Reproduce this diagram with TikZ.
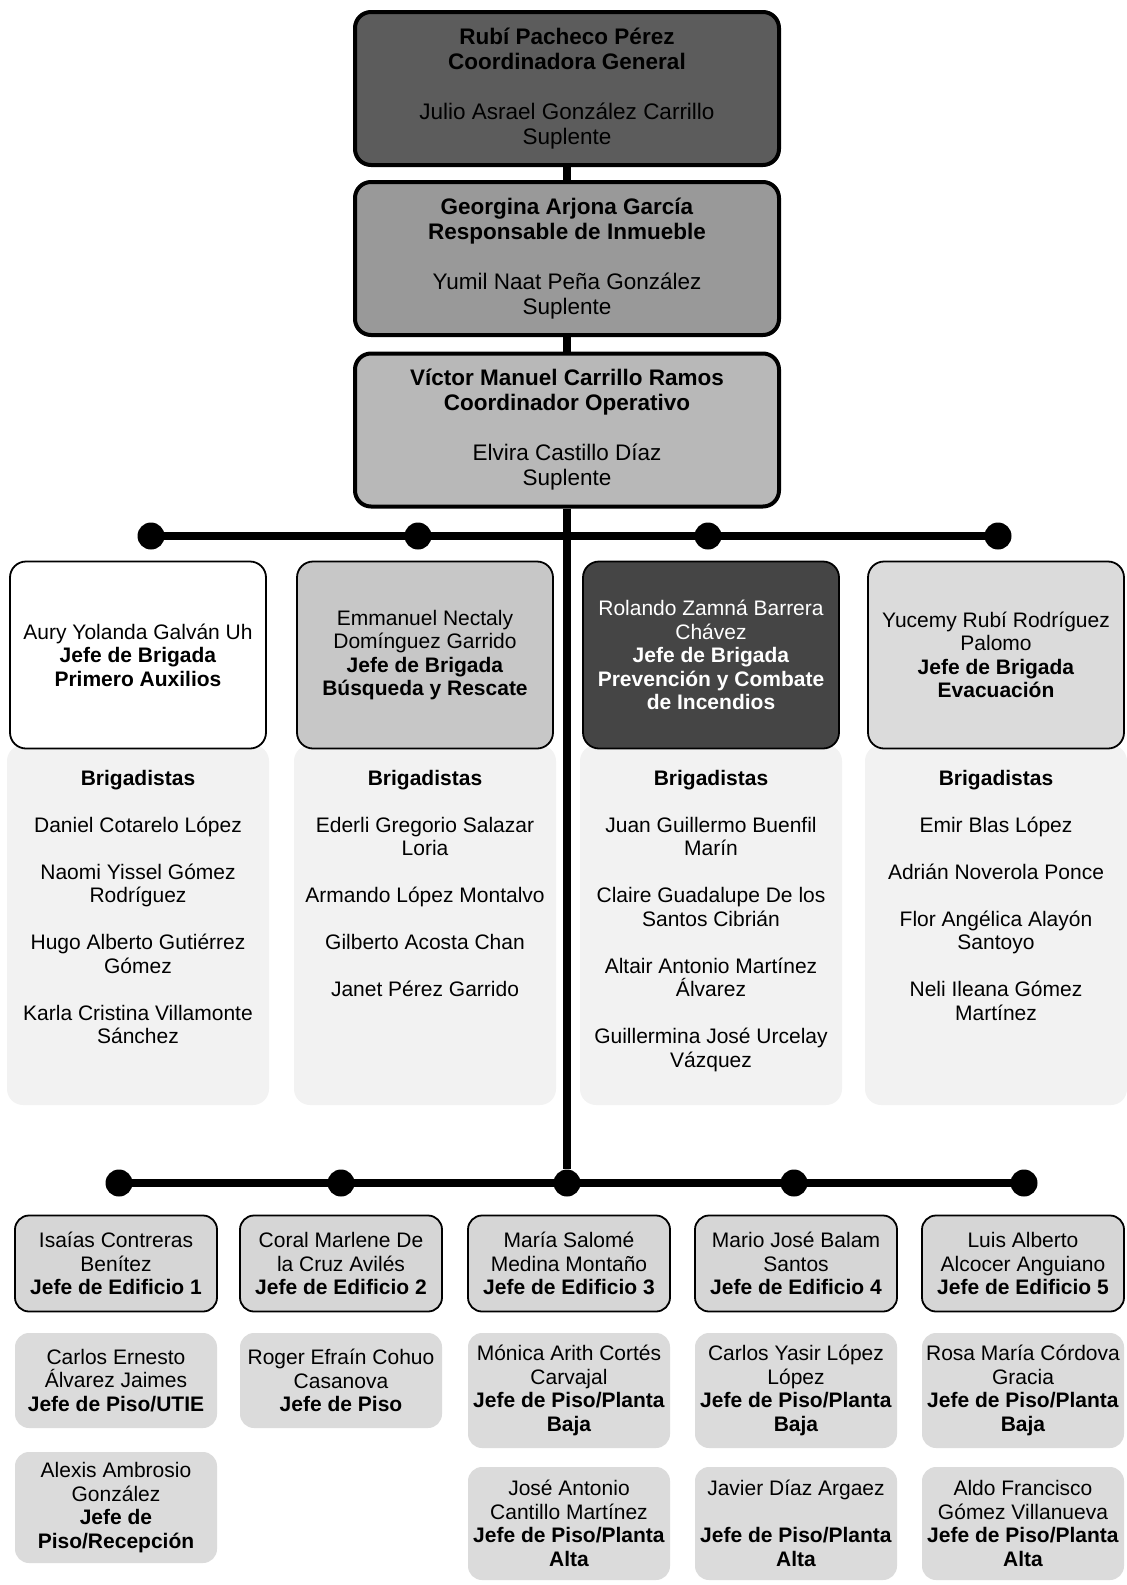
\documentclass[tikz,border=0pt]{standalone}
\usepackage{fontspec}
\setmainfont{Liberation Sans}
\usepackage{tikz}

% Define fill colours
\definecolor{genfill}{gray}{0.36}
\definecolor{inmfill}{gray}{0.60}
\definecolor{opefill}{gray}{0.72}
\definecolor{busfill}{gray}{0.78}
\definecolor{incfill}{gray}{0.27}
\definecolor{evafill}{gray}{0.86}
\definecolor{listfill}{gray}{0.95}
\definecolor{edifill}{gray}{0.84}
\definecolor{pisofill}{gray}{0.86}

\tikzset{
    topbox/.style={draw=black, line width=4pt, rounded corners=16pt, minimum width=424pt,
        minimum height=153pt, align=center, inner sep=0pt, font=\fontsize{22.5}{25}\selectfont},
    brigbox/.style={draw=black, line width=1.8pt, rounded corners=16pt, minimum width=256pt,
        minimum height=187pt, align=center, inner sep=0pt, font=\fontsize{21}{23.5}\selectfont},
    listbg/.style={fill=listfill, rounded corners=16pt, minimum width=262pt, minimum height=360pt, inner sep=0pt},
    listtext/.style={anchor=north, align=center, inner sep=0pt, font=\fontsize{21}{23.5}\selectfont},
    edibox/.style={draw=black, line width=1.8pt, fill=edifill, rounded corners=14pt, minimum width=202pt,
        minimum height=96pt, align=center, inner sep=0pt, font=\fontsize{21}{23.5}\selectfont},
    pisobox/.style={fill=pisofill, rounded corners=14pt, minimum width=202pt,
        align=center, inner sep=0pt, font=\fontsize{21}{23.5}\selectfont},
    hub/.style={circle, fill=black, inner sep=0pt, minimum size=27pt},
    link/.style={line width=8pt}
}

\begin{document}
\begin{tikzpicture}[x=1pt, y=-1pt]
    \useasboundingbox (0,0) rectangle (1127,1585);

    % Coordination chain
    \node[topbox, fill=genfill] (gen) at (567,88.5)
        {\textbf{Rubí Pacheco Pérez}\\ \textbf{Coordinadora General}\\[25pt] Julio Asrael González Carrillo\\ Suplente};
    \node[topbox, fill=inmfill] (inm) at (567,258.5)
        {\textbf{Georgina Arjona García}\\ \textbf{Responsable de Inmueble}\\[25pt] Yumil Naat Peña González\\ Suplente};
    \node[topbox, fill=opefill] (ope) at (567,430)
        {\textbf{Víctor Manuel Carrillo Ramos}\\ \textbf{Coordinador Operativo}\\[25pt] Elvira Castillo Díaz\\ Suplente};

    % Hubs on the two bars
    \foreach \name/\xpos in {t1/151, t2/418, t3/708, t4/998}
        \node[hub] (\name) at (\xpos,536) {};
    \foreach \name/\xpos in {b1/119, b2/341, b3/567, b4/794, b5/1024}
        \node[hub] (\name) at (\xpos,1183) {};

    % Draw the trunk and the bars
    \draw[link] (gen) -- (inm);
    \draw[link] (inm) -- (ope);
    \draw[link] (ope) -- (b3);
    \draw[link] (t1.center) -- (t4.center);
    \draw[link] (b1.center) -- (b5.center);

    % Brigade backgrounds
    \foreach \name/\xpos in {bg1/138, bg2/425, bg3/711, bg4/996}
        \node[listbg] (\name) at (\xpos,925) {};

    % Brigade heads
    \node[brigbox, fill=white] (pau) at (138,655)
        {Aury Yolanda Galván Uh\\ \textbf{Jefe de Brigada}\\ \textbf{Primero Auxilios}};
    \node[brigbox, fill=busfill] (bus) at (425,655)
        {Emmanuel Nectaly\\ Domínguez Garrido\\ \textbf{Jefe de Brigada}\\ \textbf{Búsqueda y Rescate}};
    \node[brigbox, fill=incfill, text=white] (inc) at (711,655)
        {Rolando Zamná Barrera\\ Chávez\\ \textbf{Jefe de Brigada}\\ \textbf{Prevención y Combate}\\ \textbf{de Incendios}};
    \node[brigbox, fill=evafill] (eva) at (996,655)
        {Yucemy Rubí Rodríguez\\ Palomo\\ \textbf{Jefe de Brigada}\\ \textbf{Evacuación}};

    % Brigade members
    \node[listtext] (lpau) at (138,770)
        {\textbf{Brigadistas}\\[23.5pt] Daniel Cotarelo López\\[23.5pt] Naomi Yissel Gómez\\ Rodríguez\\[23.5pt]
         Hugo Alberto Gutiérrez\\ Gómez\\[23.5pt] Karla Cristina Villamonte\\ Sánchez};
    \node[listtext] (lbus) at (425,770)
        {\textbf{Brigadistas}\\[23.5pt] Ederli Gregorio Salazar\\ Loria\\[23.5pt] Armando López Montalvo\\[23.5pt]
         Gilberto Acosta Chan\\[23.5pt] Janet Pérez Garrido};
    \node[listtext] (linc) at (711,770)
        {\textbf{Brigadistas}\\[23.5pt] Juan Guillermo Buenfil\\ Marín\\[23.5pt] Claire Guadalupe De los\\ Santos Cibrián\\[23.5pt]
         Altair Antonio Martínez\\ Álvarez\\[23.5pt] Guillermina José Urcelay\\ Vázquez};
    \node[listtext] (leva) at (996,770)
        {\textbf{Brigadistas}\\[23.5pt] Emir Blas López\\[23.5pt] Adrián Noverola Ponce\\[23.5pt]
         Flor Angélica Alayón\\ Santoyo\\[23.5pt] Neli Ileana Gómez\\ Martínez};

    % Building heads
    \node[edibox] (ed1) at (116,1263.5) {Isaías Contreras\\ Benítez\\ \textbf{Jefe de Edificio 1}};
    \node[edibox] (ed2) at (341,1263.5) {Coral Marlene De\\ la Cruz Avilés\\ \textbf{Jefe de Edificio 2}};
    \node[edibox] (ed3) at (569,1263.5) {María Salomé\\ Medina Montaño\\ \textbf{Jefe de Edificio 3}};
    \node[edibox] (ed4) at (796,1263.5) {Mario José Balam\\ Santos\\ \textbf{Jefe de Edificio 4}};
    \node[edibox] (ed5) at (1023,1263.5) {Luis Alberto\\ Alcocer Anguiano\\ \textbf{Jefe de Edificio 5}};

    % Floor heads
    \node[pisobox, minimum height=95pt] (p11) at (116,1380.5)
        {Carlos Ernesto\\ Álvarez Jaimes\\ \textbf{Jefe de Piso/UTIE}};
    \node[pisobox, minimum height=111pt] (p12) at (116,1507.5)
        {Alexis Ambrosio\\ González\\ \textbf{Jefe de}\\ \textbf{Piso/Recepción}};
    \node[pisobox, minimum height=95pt] (p21) at (341,1380.5)
        {Roger Efraín Cohuo\\ Casanova\\ \textbf{Jefe de Piso}};
    \node[pisobox, minimum height=115pt] (p31) at (569,1390.5)
        {Mónica Arith Cortés\\ Carvajal\\ \textbf{Jefe de Piso/Planta}\\ \textbf{Baja}};
    \node[pisobox, minimum height=113pt] (p32) at (569,1523.5)
        {José Antonio\\ Cantillo Martínez\\ \textbf{Jefe de Piso/Planta}\\ \textbf{Alta}};
    \node[pisobox, minimum height=115pt] (p41) at (796,1390.5)
        {Carlos Yasir López\\ López\\ \textbf{Jefe de Piso/Planta}\\ \textbf{Baja}};
    \node[pisobox, minimum height=113pt] (p42) at (796,1523.5)
        {Javier Díaz Argaez\\[23.5pt] \textbf{Jefe de Piso/Planta}\\ \textbf{Alta}};
    \node[pisobox, minimum height=115pt] (p51) at (1023,1390.5)
        {Rosa María Córdova\\ Gracia\\ \textbf{Jefe de Piso/Planta}\\ \textbf{Baja}};
    \node[pisobox, minimum height=113pt] (p52) at (1023,1523.5)
        {Aldo Francisco\\ Gómez Villanueva\\ \textbf{Jefe de Piso/Planta}\\ \textbf{Alta}};
\end{tikzpicture}
\end{document}
